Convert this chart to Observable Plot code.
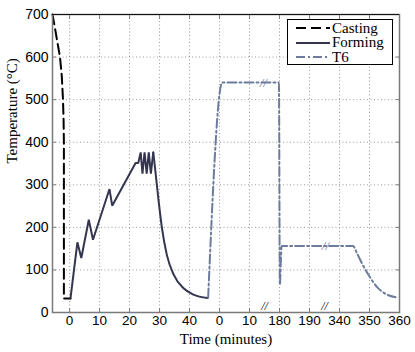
<!DOCTYPE html>
<html>
<head>
<meta charset="utf-8">
<script src="https://cdn.jsdelivr.net/npm/d3@7"></script>
<script src="https://cdn.jsdelivr.net/npm/@observablehq/plot@0.6"></script>
<style>
  html, body { margin: 0; padding: 0; background: #fff; }
  #wrap { position: relative; width: 415px; height: 352px; }
  #legend { position: absolute; left: 287px; top: 19px; width: 106px; height: 46px;
    border: 1px solid #000; background: #fff; font-family: "Liberation Serif", serif; font-size: 15px;
    box-sizing: border-box; padding-top: 1px; }
  #legend .row { display: flex; align-items: center; height: 14.5px; }
  #legend span { display: block; line-height: 13px; height: 13px; }
  #legend svg { margin-left: 8px; margin-right: 2px; }
</style>
</head>
<body>
<div id="wrap"></div>
<script>
// Axis (virtual positions) and their printed labels
const xTicks = [0, 10, 20, 30, 40, 50, 60, 70, 80, 90, 100, 110];
const xTickLabels = ["0", "10", "20", "30", "40", "0", "10", "180", "190", "340", "350", "360"];
const yTicks = [0, 100, 200, 300, 400, 500, 600, 700];
const axisBreaks = [65, 85];

// Series names / styles
const seriesNames = ["Casting", "Forming", "T6"];
const seriesColors = ["#000000", "#34354f", "#6d7b9c"];
const seriesDash = ["10,5", null, "9,3,2,3"];

// Casting (minutes, before forming start)
const castingTime = [-5.7, -4.8, -4.0, -3.2, -2.6, -2.2, -2.0, -1.9, -1.9, 0.3];
const castingTemp = [700, 665, 632, 600, 555, 500, 450, 400, 33, 33];

// Forming (minutes from forming start)
const formingTime = [0.3, 2.6, 3.9, 6.4, 7.8, 13.3, 14.2, 22.0, 22.9, 23.7, 24.3, 25.0, 25.7, 26.4, 27.1, 27.9];
const formingTemp = [33, 165, 128, 218, 171, 290, 251, 351, 351, 376, 326, 376, 326, 376, 326, 376];
const coolTime = [27.9, 28.6, 29.7, 30.8, 32.4, 34.7, 38.0, 41.3, 46.0];
const coolTemp = [376, 332, 261, 198, 136, 89, 57, 42, 34];

// T6 (minutes of heat treatment)
const t6Time = [-3.8, 0.9, 179.8, 180.1, 180.7, 344.5, 345.9, 347.6, 349.8, 352.6, 355.3, 358.7];
const t6Temp = [35, 540, 540, 65, 156, 156, 138, 114, 87, 59, 44, 36];
const t6Breaks = [{time: 14.6, temp: 540}, {time: 335.3, temp: 156}];

// map T6 minutes onto the broken axis
const t6pos = t => t <= 20 ? 50 + t : (t < 300 ? 70 + (t - 180) : 90 + (t - 340));

const casting = castingTime.map((t, i) => ({x: t, y: castingTemp[i]}));
const forming = formingTime.map((t, i) => ({x: t, y: formingTemp[i]}));
const cooling = coolTime.map((t, i) => ({x: t, y: coolTemp[i]}));
const t6 = t6Time.map((t, i) => ({x: t6pos(t), y: t6Temp[i]}));
const t6b = t6Breaks.map(d => ({x: t6pos(d.time), y: d.temp}));

const frameColor = "#7a7a7a";

const chart = Plot.plot({
  width: 415,
  height: 352,
  marginLeft: 52,
  marginRight: 16,
  marginTop: 14,
  marginBottom: 40,
  style: {fontFamily: "'Liberation Sans', Arial, sans-serif", fontSize: "14px", background: "#fff"},
  x: {domain: [-5.7, 110], ticks: xTicks},
  y: {domain: [0, 700], ticks: yTicks},
  marks: [
    Plot.gridX(xTicks, {stroke: "#9a9a9a", strokeOpacity: 1, strokeDasharray: "1,2.5"}),
    Plot.gridY(yTicks, {stroke: "#9a9a9a", strokeOpacity: 1, strokeDasharray: "1,2.5"}),
    Plot.axisX(xTicks, {tickSize: 0, tickPadding: 3, tickFormat: (d, i) => xTickLabels[i], label: null, fill: "#000", fontSize: 13.5}),
    Plot.axisY(yTicks, {tickSize: 0, tickPadding: 4, label: null, fill: "#000", fontSize: 14}),
    Plot.axisX(xTicks, {anchor: "bottom", tickSize: -4, tickFormat: () => "", label: null, stroke: frameColor}),
    Plot.axisX(xTicks, {anchor: "top", tickSize: -4, tickFormat: () => "", label: null, stroke: frameColor}),
    Plot.axisY(yTicks, {anchor: "left", tickSize: -4, tickFormat: () => "", label: null, stroke: frameColor}),
    Plot.axisY(yTicks, {anchor: "right", tickSize: -4, tickFormat: () => "", label: null, stroke: frameColor}),
    Plot.line(casting, {x: "x", y: "y", stroke: seriesColors[0], strokeWidth: 2, strokeDasharray: seriesDash[0]}),
    Plot.line(forming, {x: "x", y: "y", stroke: seriesColors[1], strokeWidth: 2, strokeLinejoin: "miter"}),
    Plot.line(cooling, {x: "x", y: "y", stroke: seriesColors[1], strokeWidth: 2, curve: "monotone-x"}),
    Plot.line(t6, {x: "x", y: "y", stroke: seriesColors[2], strokeWidth: 2, strokeDasharray: seriesDash[2], curve: "monotone-x"}),
    Plot.text(t6b, {x: "x", y: "y", text: () => "//", fill: seriesColors[2], fontSize: 13, fontStyle: "italic", fontFamily: "'Liberation Serif', serif"}),
    Plot.frame({stroke: frameColor, strokeWidth: 1.5}),
    Plot.ruleY([700], {stroke: "#111", strokeWidth: 1}),
    Plot.text(axisBreaks, {x: d => d, frameAnchor: "bottom", dy: -3, text: () => "//", fill: "#000", fontSize: 12, fontStyle: "italic", fontFamily: "'Liberation Serif', serif"}),
    Plot.text(["Time (minutes)"], {frameAnchor: "bottom", dy: 31, text: d => d, fontSize: 15, fontFamily: "'Liberation Serif', serif", fill: "#000"}),
    Plot.text(["Temperature (\u00B0C)"], {frameAnchor: "left", dx: -40, rotate: -90, text: d => d, fontSize: 15, fontFamily: "'Liberation Serif', serif", fill: "#000"})
  ]
});

const wrap = document.getElementById("wrap");
wrap.appendChild(chart);

// legend inside the plot (upper right)
const legend = document.createElement("div");
legend.id = "legend";
seriesNames.forEach((name, i) => {
  const row = document.createElement("div");
  row.className = "row";
  const ns = "http://www.w3.org/2000/svg";
  const s = document.createElementNS(ns, "svg");
  s.setAttribute("width", 34); s.setAttribute("height", 8);
  const ln = document.createElementNS(ns, "line");
  ln.setAttribute("x1", 0); ln.setAttribute("x2", 34); ln.setAttribute("y1", 4); ln.setAttribute("y2", 4);
  ln.setAttribute("stroke", seriesColors[i]); ln.setAttribute("stroke-width", 2);
  if (seriesDash[i]) ln.setAttribute("stroke-dasharray", seriesDash[i]);
  s.appendChild(ln);
  const t = document.createElement("span");
  t.textContent = name;
  row.appendChild(s); row.appendChild(t);
  legend.appendChild(row);
});
wrap.appendChild(legend);
</script>
</body>
</html>
